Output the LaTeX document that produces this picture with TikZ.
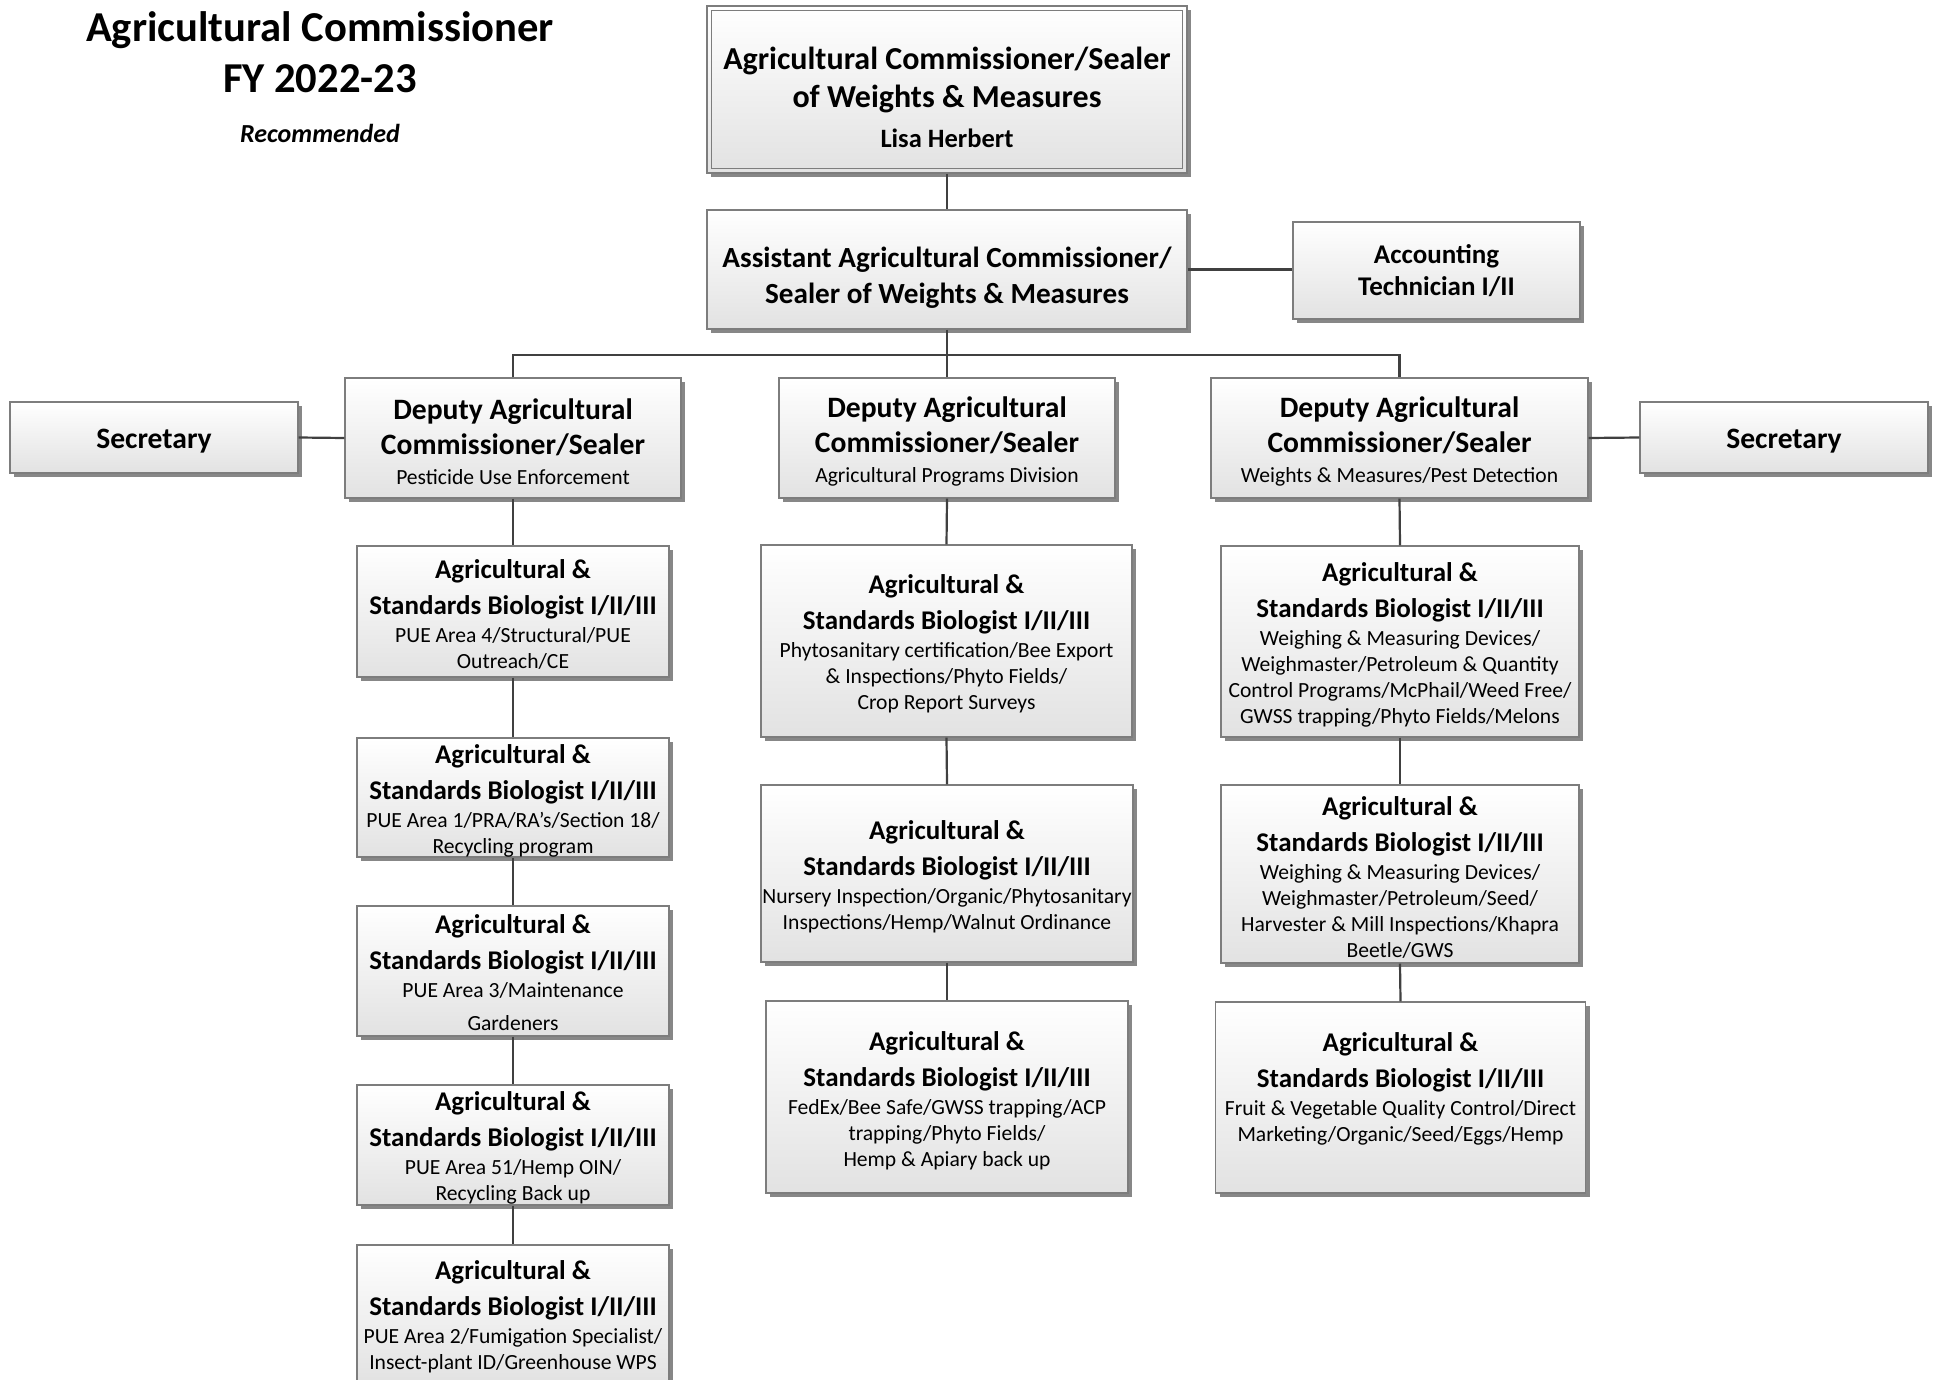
\documentclass[tikz,border=0pt]{standalone}
\usepackage{fontspec}
\setmainfont{Carlito}
\usetikzlibrary{shadows}
\definecolor{boxgray}{RGB}{125,125,125}
\definecolor{boxbot}{RGB}{226,226,226}
\definecolor{linegray}{RGB}{64,64,64}
\definecolor{shadowgray}{RGB}{135,135,135}
\newcommand\BoxTxt[3]{\parbox{#1pt}{\centering\vspace*{#2pt}#3}}
\newcommand\BioHead{\fontsize{27}{36}\selectfont\bfseries}
\newcommand\BioSub{\fontsize{21.6}{26}\selectfont\mdseries}
\newcommand\AgBio[1]{{\BioHead Agricultural \&\\Standards Biologist I/II/III\par}\vspace{2pt}{\BioSub #1\par}}
\newcommand\DepBox[1]{{\fontsize{29.6}{35}\selectfont\bfseries Deputy Agricultural\\Commissioner/Sealer\par}{\fontsize{21.6}{30}\selectfont #1\par}}
\begin{document}
\begin{tikzpicture}[x=1pt,y=-1pt,
  box/.style={draw=boxgray, line width=1.3pt, top color=white, bottom color=boxbot,
    drop shadow={shadow xshift=4pt, shadow yshift=-4pt, fill=shadowgray, opacity=1},
    inner sep=0pt},
  conn/.style={draw=linegray, line width=2.2pt},
  ttl/.style={font=\fontsize{42.6}{50}\selectfont\bfseries, inner sep=0pt}]
\useasboundingbox (0,0) rectangle (1938,1380);

% title
\node[ttl] (title1) at (320,30.5) {Agricultural Commissioner};
\node[ttl] (title2) at (320,79) {FY 2022-23};
\node[font=\fontsize{26}{30}\selectfont\bfseries\itshape, inner sep=0pt] (title3) at (320,133) {Recommended};

% top
\node[box, minimum width=480, minimum height=167] (top) at (947,89.5)
  {\BoxTxt{474}{15}{{\fontsize{32}{38}\selectfont\bfseries Agricultural Commissioner/Sealer\\of Weights \& Measures\par}{\fontsize{26.5}{40}\selectfont\bfseries Lisa Herbert\par}}};
\draw[draw=boxgray, line width=1.3pt] ([shift={(5,5)}]top.north west) rectangle ([shift={(-5,-5)}]top.south east);

\node[box, minimum width=480, minimum height=119] (asst) at (947,269.5)
  {\BoxTxt{474}{17}{{\fontsize{29.2}{36}\selectfont\bfseries Assistant Agricultural Commissioner/\\Sealer of Weights \& Measures\par}}};
\node[box, minimum width=287, minimum height=97] (acct) at (1436.5,270.5)
  {\BoxTxt{281}{0}{{\fontsize{27}{32}\selectfont\bfseries Accounting\\Technician I/II\par}}};

% deputies
\node[box, minimum width=336, minimum height=120] (d1) at (513,438) {\BoxTxt{330}{7}{\DepBox{Pesticide Use Enforcement}}};
\node[box, minimum width=336, minimum height=120] (d2) at (947,438) {\BoxTxt{330}{7}{\DepBox{Agricultural Programs Division}}};
\node[box, minimum width=377, minimum height=120] (d3) at (1399.5,438) {\BoxTxt{371}{7}{\DepBox{Weights \& Measures/Pest Detection}}};

\node[box, minimum width=288, minimum height=71] (secL) at (154,437.5) {\BoxTxt{282}{8}{{\fontsize{29.6}{35}\selectfont\bfseries Secretary\par}}};
\node[box, minimum width=288, minimum height=71] (secR) at (1784,437.5) {\BoxTxt{282}{8}{{\fontsize{29.6}{35}\selectfont\bfseries Secretary\par}}};

% column 1
\node[box, minimum width=312, minimum height=131] (b1) at (513,611.5) {\BoxTxt{306}{6}{\AgBio{PUE Area 4/Structural/PUE\\Outreach/CE}}};
\node[box, minimum width=312, minimum height=119] (b2) at (513,797.5) {\BoxTxt{306}{6}{\AgBio{PUE Area 1/PRA/RA’s/Section 18/\\Recycling program}}};
\node[box, minimum width=312, minimum height=130] (b3) at (513,971) {\BoxTxt{306}{4}{\AgBio{PUE Area 3/Maintenance\\[7pt]Gardeners}}};
\node[box, minimum width=312, minimum height=120] (b4) at (513,1145) {\BoxTxt{306}{6}{\AgBio{PUE Area 51/Hemp OIN/\\Recycling Back up}}};
\node[box, minimum width=312, minimum height=139] (b5) at (513,1314.5) {\BoxTxt{306}{4}{\AgBio{PUE Area 2/Fumigation Specialist/\\Insect-plant ID/Greenhouse WPS}}};

% column 2
\node[box, minimum width=371, minimum height=192] (c1) at (946.5,641) {\BoxTxt{367}{6}{\AgBio{Phytosanitary certification/Bee Export\\\& Inspections/Phyto Fields/\\Crop Report Surveys}}};
\node[box, minimum width=372, minimum height=177] (c2) at (947,873.5) {\BoxTxt{370}{6}{\AgBio{Nursery Inspection/Organic/Phytosanitary\\Inspections/Hemp/Walnut Ordinance}}};
\node[box, minimum width=362, minimum height=192] (c3) at (947,1097) {\BoxTxt{356}{7}{\AgBio{FedEx/Bee Safe/GWSS trapping/ACP\\trapping/Phyto Fields/\\Hemp \& Apiary back up}}};

% column 3
\node[box, minimum width=358, minimum height=191] (e1) at (1400,641.5) {\BoxTxt{354}{6}{\AgBio{Weighing \& Measuring Devices/\\Weighmaster/Petroleum \& Quantity\\Control Programs/McPhail/Weed Free/\\GWSS trapping/Phyto Fields/Melons}}};
\node[box, minimum width=358, minimum height=178] (e2) at (1400,874) {\BoxTxt{354}{6}{\AgBio{Weighing \& Measuring Devices/\\Weighmaster/Petroleum/Seed/\\Harvester \& Mill Inspections/Khapra\\Beetle/GWS}}};
\node[box, minimum width=370, minimum height=191] (e3) at (1400.5,1097.5) {\BoxTxt{366}{5}{\AgBio{Fruit \& Vegetable Quality Control/Direct\\Marketing/Organic/Seed/Eggs/Hemp\\\mbox{}}}};

% connectors
\coordinate (bus) at (947,355);
\draw[conn] (top.south) -- (asst.north);
\draw[conn] (asst.east) -- (asst.east -| acct.west);
\draw[conn] (asst.south) -- (bus);
\draw[conn] (d1.north) |- (bus) -| (d3.north);
\draw[conn] (bus) -- (d2.north);
\draw[conn] (secL.east) -- (d1.west);
\draw[conn] (d3.east) -- (secR.west);
\draw[conn] (d1.south) -- (b1.north);
\draw[conn] (b1.south) -- (b2.north);
\draw[conn] (b2.south) -- (b3.north);
\draw[conn] (b3.south) -- (b4.north);
\draw[conn] (b4.south) -- (b5.north);
\draw[conn] (d2.south) -- (c1.north);
\draw[conn] (c1.south) -- (c2.north);
\draw[conn] (c2.south) -- (c3.north);
\draw[conn] (d3.south) -- (e1.north);
\draw[conn] (e1.south) -- (e2.north);
\draw[conn] (e2.south) -- (e3.north);
\end{tikzpicture}
\end{document}
